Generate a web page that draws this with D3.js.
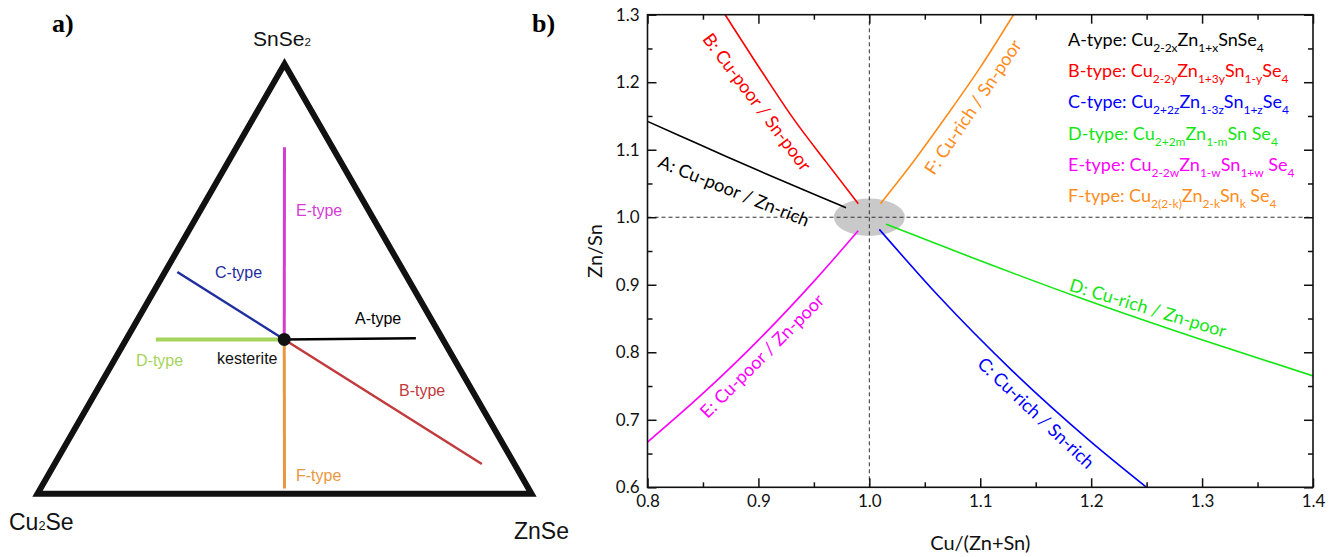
<!DOCTYPE html>
<html>
<head>
<meta charset="utf-8">
<script src="https://cdn.jsdelivr.net/npm/d3@7/dist/d3.min.js"></script>
<style>
  html, body { margin: 0; padding: 0; background: #fff; }
  svg { display: block; }
  text { white-space: pre; }
</style>
</head>
<body>
<svg id="chart" width="1333" height="557"></svg>
<script>
// ---------------- DATA ----------------
// Panel a: ternary compositions [SnSe2 fraction, ZnSe fraction]
const vertexNames = ["Cu2Se", "ZnSe", "SnSe2"];
const vertexComp = [[0, 0], [0, 1], [1, 0]];
const kesteriteComp = [0.359, 0.32];
const typeNames = ["E-type", "F-type", "C-type", "D-type", "A-type", "B-type"];
const typeEnds = [[0.806, 0.097], [0.012, 0.494], [0.516, 0.025], [0.359, 0.06], [0.362, 0.585], [0.069, 0.865]];

// Panel b: Cu/(Zn+Sn) vs Zn/Sn
const xTicks = [0.8, 0.9, 1.0, 1.1, 1.2, 1.3, 1.4];
const yTicks = [0.6, 0.7, 0.8, 0.9, 1.0, 1.1, 1.2, 1.3];
const seriesA_x = [0.800, 0.830, 0.871, 0.913, 0.956, 0.979];
const seriesA_y = [1.142, 1.120, 1.090, 1.060, 1.030, 1.014];
const seriesB_x = [0.870, 0.905, 0.932, 0.961, 0.990];
const seriesB_y = [1.300, 1.211, 1.145, 1.082, 1.020];
const seriesC_x = [1.009, 1.062, 1.128, 1.198, 1.250];
const seriesC_y = [0.982, 0.884, 0.774, 0.670, 0.600];
const seriesD_x = [1.015, 1.093, 1.191, 1.297, 1.400];
const seriesD_y = [0.990, 0.940, 0.880, 0.820, 0.765];
const seriesE_x = [0.800, 0.850, 0.900, 0.950, 0.990];
const seriesE_y = [0.667, 0.739, 0.818, 0.905, 0.980];
const seriesF_x = [1.010, 1.040, 1.070, 1.100, 1.130];
const seriesF_y = [1.020, 1.083, 1.151, 1.222, 1.300];
const curveLabels = ["A: Cu-poor / Zn-rich", "B: Cu-poor / Sn-poor", "C: Cu-rich / Sn-rich",
                     "D: Cu-rich / Zn-poor", "E: Cu-poor / Zn-poor", "F: Cu-rich / Sn-poor"];
// legend formulas: alternating normal / subscript segments
const legendRows = [
  ["A-type: Cu", "2-2x", "Zn", "1+x", "SnSe", "4"],
  ["B-type: Cu", "2-2y", "Zn", "1+3y", "Sn", "1-y", "Se", "4"],
  ["C-type: Cu", "2+2z", "Zn", "1-3z", "Sn", "1+z", "Se", "4"],
  ["D-type: Cu", "2+2m", "Zn", "1-m", "Sn Se", "4"],
  ["E-type: Cu", "2-2w", "Zn", "1-w", "Sn", "1+w", " Se", "4"],
  ["F-type: Cu", "2(2-k)", "Zn", "2-k", "Sn", "k", " Se", "4"]
];
const ellipseCenter = [1.0, 1.0];
const ellipseRadii = [0.032, 0.0277];

// ---------------- STYLE ----------------
const colorsB = {A: "#000000", B: "#ff0000", C: "#0000ff", D: "#14e614", E: "#ff00ff", F: "#ff8c1a"};
const colorsA = {"E-type": "#d43cd4", "F-type": "#e9983f", "C-type": "#1f2e9c", "D-type": "#a5d45c", "A-type": "#000000", "B-type": "#c13a3c"};
const widthsA = {"E-type": 3, "F-type": 3, "C-type": 2.5, "D-type": 4, "A-type": 2.5, "B-type": 2.5};

const svg = d3.select("#chart");
svg.append("rect").attr("width", 1333).attr("height", 557).attr("fill", "#fff");

// ---------------- PANEL A ----------------
const ga = svg.append("g");
const triX = d3.scaleLinear([0, 1], [37.5, 531.5]);
const triY = d3.scaleLinear([0, 1], [493.7, 64]);
const proj = ([sn, zn]) => [triX(zn + sn / 2), triY(sn)];

ga.append("path")
  .attr("d", d3.line()(vertexComp.map(proj)) + "Z")
  .attr("fill", "none").attr("stroke", "#111").attr("stroke-width", 6).attr("stroke-linejoin", "miter");

typeNames.forEach((t, i) => {
  ga.append("path")
    .attr("d", d3.line()([proj(kesteriteComp), proj(typeEnds[i])]))
    .attr("stroke", colorsA[t]).attr("stroke-width", widthsA[t]).attr("fill", "none");
});
const kp = proj(kesteriteComp);
ga.append("circle").attr("cx", kp[0]).attr("cy", kp[1]).attr("r", 6.5).attr("fill", "#111");

const labA = {"E-type": [296, 216], "C-type": [215, 278], "A-type": [355, 324],
              "D-type": [136, 366], "B-type": [399, 396], "F-type": [296, 481]};
typeNames.forEach(t => {
  ga.append("text").attr("x", labA[t][0]).attr("y", labA[t][1])
    .attr("font-family", "Liberation Sans, Arial, sans-serif").attr("font-size", 16)
    .attr("fill", colorsA[t]).text(t);
});
ga.append("text").attr("x", 217).attr("y", 364)
  .attr("font-family", "Liberation Sans, Arial, sans-serif").attr("font-size", 16)
  .attr("fill", "#111").text("kesterite");

function chemLabel(g, x, y, parts, size) {
  const t = g.append("text").attr("x", x).attr("y", y)
    .attr("font-family", "Liberation Sans, Arial, sans-serif").attr("font-size", size).attr("fill", "#111");
  parts.forEach((p, i) => {
    t.append("tspan").attr("font-size", i % 2 ? size * 0.55 : size).text(p);
  });
}
chemLabel(ga, 253, 46, ["SnSe", "2"], 21);
chemLabel(ga, 9, 530, ["Cu", "2", "Se"], 23);
chemLabel(ga, 514, 539, ["ZnSe"], 23);

svg.append("text").attr("x", 52).attr("y", 32).attr("font-family", "Liberation Serif, Times New Roman, serif")
  .attr("font-weight", "bold").attr("font-size", 26).text("a)");
svg.append("text").attr("x", 532).attr("y", 32).attr("font-family", "Liberation Serif, Times New Roman, serif")
  .attr("font-weight", "bold").attr("font-size", 26).text("b)");

// ---------------- PANEL B ----------------
const gb = svg.append("g");
const x = d3.scaleLinear([0.8, 1.4], [647.5, 1313]);
const y = d3.scaleLinear([0.6, 1.3], [487.3, 14.7]);
const FONT = "Lato, 'Open Sans', sans-serif";

gb.append("clipPath").attr("id", "plotclip").append("rect")
  .attr("x", x(0.8)).attr("y", y(1.3)).attr("width", x(1.4) - x(0.8)).attr("height", y(0.6) - y(1.3));

const plot = gb.append("g").attr("clip-path", "url(#plotclip)");
plot.append("ellipse")
  .attr("cx", x(ellipseCenter[0])).attr("cy", y(ellipseCenter[1]))
  .attr("rx", x(ellipseCenter[0] + ellipseRadii[0]) - x(ellipseCenter[0]))
  .attr("ry", y(ellipseCenter[1]) - y(ellipseCenter[1] + ellipseRadii[1]))
  .attr("fill", "#c9c9c9");

plot.append("line").attr("x1", x(1.0)).attr("x2", x(1.0)).attr("y1", y(0.6)).attr("y2", y(1.3))
  .attr("stroke", "#333").attr("stroke-width", 1).attr("stroke-dasharray", "4,3");
plot.append("line").attr("x1", x(0.8)).attr("x2", x(1.4)).attr("y1", y(1.0)).attr("y2", y(1.0))
  .attr("stroke", "#333").attr("stroke-width", 1).attr("stroke-dasharray", "4,3");

const series = [
  ["A", seriesA_x, seriesA_y], ["B", seriesB_x, seriesB_y], ["C", seriesC_x, seriesC_y],
  ["D", seriesD_x, seriesD_y], ["E", seriesE_x, seriesE_y], ["F", seriesF_x, seriesF_y]
];
const lineGen = d3.line().x(d => x(d[0])).y(d => y(d[1])).curve(d3.curveMonotoneX);
series.forEach(([k, xs, ys]) => {
  plot.append("path").attr("d", lineGen(xs.map((v, i) => [v, ys[i]])))
    .attr("fill", "none").attr("stroke", colorsB[k]).attr("stroke-width", 1.6);
});

// axes (inward ticks)
const fmt = d3.format(".1f");
const xMinor = [0.85, 0.95, 1.05, 1.15, 1.25, 1.35];
const yMinor = [0.65, 0.75, 0.85, 0.95, 1.05, 1.15, 1.25];
function styleAxis(g) {
  g.select(".domain").remove();
  g.selectAll("line").attr("stroke", "#111").attr("stroke-width", 1.5);
  g.selectAll("text").attr("font-family", FONT).attr("font-size", 17).attr("fill", "#111");
}
gb.append("g").attr("transform", `translate(0,${y(0.6)})`)
  .call(d3.axisBottom(x).tickValues(xTicks).tickFormat(fmt).tickSize(-9).tickPadding(8)).call(styleAxis);
gb.append("g").attr("transform", `translate(0,${y(0.6)})`)
  .call(d3.axisBottom(x).tickValues(xMinor).tickFormat("").tickSize(-5)).call(styleAxis);
gb.append("g").attr("transform", `translate(0,${y(1.3)})`)
  .call(d3.axisTop(x).tickValues(xTicks).tickFormat("").tickSize(-9)).call(styleAxis);
gb.append("g").attr("transform", `translate(0,${y(1.3)})`)
  .call(d3.axisTop(x).tickValues(xMinor).tickFormat("").tickSize(-5)).call(styleAxis);
gb.append("g").attr("transform", `translate(${x(0.8)},0)`)
  .call(d3.axisLeft(y).tickValues(yTicks).tickFormat(fmt).tickSize(-9).tickPadding(8)).call(styleAxis);
gb.append("g").attr("transform", `translate(${x(0.8)},0)`)
  .call(d3.axisLeft(y).tickValues(yMinor).tickFormat("").tickSize(-5)).call(styleAxis);
gb.append("g").attr("transform", `translate(${x(1.4)},0)`)
  .call(d3.axisRight(y).tickValues(yTicks).tickFormat("").tickSize(-9)).call(styleAxis);
gb.append("g").attr("transform", `translate(${x(1.4)},0)`)
  .call(d3.axisRight(y).tickValues(yMinor).tickFormat("").tickSize(-5)).call(styleAxis);

gb.append("rect").attr("x", x(0.8)).attr("y", y(1.3)).attr("width", x(1.4) - x(0.8)).attr("height", y(0.6) - y(1.3))
  .attr("fill", "none").attr("stroke", "#111").attr("stroke-width", 1.6);

// axis titles
gb.append("text").attr("x", (x(0.8) + x(1.4)) / 2).attr("y", 550).attr("text-anchor", "middle")
  .attr("font-family", FONT).attr("font-size", 20).attr("fill", "#111").text("Cu/(Zn+Sn)");
gb.append("text").attr("transform", `translate(602,${(y(0.6) + y(1.3)) / 2}) rotate(-90)`).attr("text-anchor", "middle")
  .attr("font-family", FONT).attr("font-size", 20).attr("fill", "#111").text("Zn/Sn");

// curve labels
const labPos = [[734, 191, 22], [757, 102, 53], [1036, 413, 43.3], [1148, 308, 16.8], [762, 356, -45], [973, 107, -56]];
const labKeys = ["A", "B", "C", "D", "E", "F"];
curveLabels.forEach((t, i) => {
  const [cx, cy, ang] = labPos[i];
  gb.append("text").attr("transform", `translate(${cx},${cy}) rotate(${ang})`)
    .attr("text-anchor", "middle").attr("dy", "0.35em")
    .attr("font-family", FONT).attr("font-size", 18).attr("fill", colorsB[labKeys[i]]).text(t);
});

// legend
legendRows.forEach((row, i) => {
  const t = gb.append("text").attr("x", 1068).attr("y", 46 + i * 31.2)
    .attr("font-family", FONT).attr("font-size", 18).attr("fill", colorsB[labKeys[i]]);
  row.forEach((seg, j) => {
    const sub = j % 2 === 1;
    const ts = t.append("tspan").text(seg);
    if (sub) ts.attr("font-size", 12).attr("dy", 6);
    else if (j > 0) ts.attr("dy", -6);
  });
});
</script>
</body>
</html>
